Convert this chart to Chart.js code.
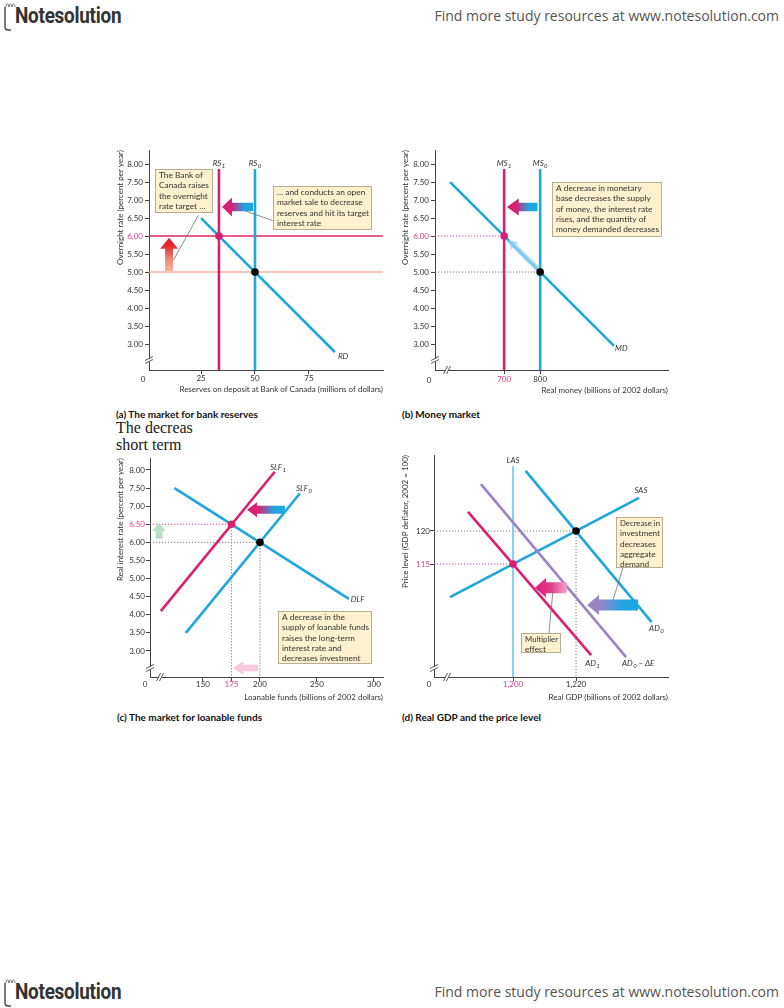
<!DOCTYPE html>
<html><head><meta charset="utf-8">
<script src="https://cdn.jsdelivr.net/npm/chart.js@4.4.1/dist/chart.umd.min.js"></script>
<style>
html,body{margin:0;padding:0;background:#fff}
body{width:784px;height:1008px;position:relative;overflow:hidden}
canvas{position:absolute}
.logo{position:absolute;left:3px;width:130px;height:32px}
.logo svg{position:absolute;left:0;top:0}
.logo span{position:absolute;left:12px;top:1.5px;font:bold 22px/22px Roboto,sans-serif;color:#333;transform:scaleX(0.86);transform-origin:0 0;letter-spacing:-0.3px;white-space:nowrap}
.link{position:absolute;right:5px;font:14px/20px 'Open Sans',sans-serif;color:#555;white-space:nowrap}
.cap{position:absolute;font:bold 10px/11px Lato,sans-serif;color:#111;white-space:nowrap}
.serif{position:absolute;left:116px;top:419px;font:16px/17px 'Liberation Serif',serif;color:#222;white-space:nowrap}
</style></head><body>
<div class="logo" style="top:3px"><svg width="14" height="30"><path d="M2 4 V24 Q2 27 5 27 H8" stroke="#444" stroke-width="1.4" fill="none"/><path d="M3 4 q0 -3 1.5 -3 q1.5 0 1.5 3 M6 4 q0 -3 1.5 -3 q1.5 0 1.5 3 M9 4 q0 -3 1.5 -3 q1.5 0 1.5 3" stroke="#555" stroke-width="0.8" fill="none"/></svg><span>Notesolution</span></div>
<div class="link" style="top:6px">Find more study resources at www.notesolution.com</div>
<div class="logo" style="top:979px"><svg width="14" height="30"><path d="M2 4 V24 Q2 27 5 27 H8" stroke="#444" stroke-width="1.4" fill="none"/><path d="M3 4 q0 -3 1.5 -3 q1.5 0 1.5 3 M6 4 q0 -3 1.5 -3 q1.5 0 1.5 3 M9 4 q0 -3 1.5 -3 q1.5 0 1.5 3" stroke="#555" stroke-width="0.8" fill="none"/></svg><span>Notesolution</span></div>
<div class="link" style="top:982px">Find more study resources at www.notesolution.com</div>
<div class="cap" style="left:116px;top:409px">(a) The market for bank reserves</div>
<div class="cap" style="left:402px;top:409px">(b) Money market</div>
<div class="cap" style="left:117px;top:712px">(c) The market for loanable funds</div>
<div class="cap" style="left:402px;top:712px">(d) Real GDP and the price level</div>
<div class="serif">The decreas<br>short term</div>
<script>
// ================= DATA =================
// (a) The market for bank reserves
const aXTicks = [25, 50, 75];
const aYTicks = [3.0, 3.5, 4.0, 4.5, 5.0, 5.5, 6.0, 6.5, 7.0, 7.5, 8.0];
const aXRange = [0.9, 109.3];
const aYRange = [2.28, 8.39];
const aRD  = [[25, 6.5], [87, 2.78]];
const aRS0 = [[50, 2.28], [50, 7.86]];
const aRS1 = [[33.3, 2.28], [33.3, 7.86]];
const aRateNew = [[0.9, 6.0], [109.3, 6.0]];
const aRateOld = [[0.9, 5.0], [109.3, 5.0]];
const aEqOld = [[50, 5.0]];
const aEqNew = [[33.3, 6.0]];

// (b) Money market
const bXTicks = [700, 800];
const bYTicks = [3.0, 3.5, 4.0, 4.5, 5.0, 5.5, 6.0, 6.5, 7.0, 7.5, 8.0];
const bXRange = [508, 1155];
const bYRange = [2.28, 8.39];
const bMD  = [[550, 7.5], [1005, 2.95]];
const bMS0 = [[800, 2.28], [800, 7.86]];
const bMS1 = [[700, 2.28], [700, 7.86]];
const bEqOld = [[800, 5.0]];
const bEqNew = [[700, 6.0]];

// (c) The market for loanable funds
const cXTicks = [150, 175, 200, 250, 300];
const cYTicks = [3.0, 3.5, 4.0, 4.5, 5.0, 5.5, 6.0, 6.5, 7.0, 7.5, 8.0];
const cXRange = [103.5, 308];
const cYRange = [2.28, 8.33];
const cDLF  = [[125, 7.5], [278, 4.44]];
const cSLF0 = [[135, 3.5], [235, 7.35]];
const cSLF1 = [[113, 4.1], [213, 7.95]];
const cEqOld = [[200, 6.0]];
const cEqNew = [[175, 6.5]];

// (d) Real GDP and the price level
const dXTicks = [1200, 1220];
const dYTicks = [115, 120];
const dXRange = [1174.9, 1249.2];
const dYRange = [97.9, 131.5];
const dLAS  = [[1200, 97.9], [1200, 129.8]];
const dSAS  = [[1180, 110], [1240, 125]];
const dAD0  = [[1204, 129.1], [1244, 106.2]];
const dADdE = [[1189.8, 127.1], [1235.9, 100.9]];
const dAD1  = [[1185.7, 122.9], [1224.8, 101.2]];
const dEqOld = [[1220, 120]];
const dEqNew = [[1200, 115]];

// ================= STYLE =================
const FONT = 'Lato';
const MAG = '#da1f72', MAGT = '#e0408a', CYAN = '#1da6e0', PURP = '#9b83c4', LASC = '#86cff0';
const DARK = '#333', AX = '#444';

const pts = a => a.map(([x, y]) => ({x, y}));
const line = (a, color, w, dash) => ({data: pts(a), showLine: true, borderColor: color, borderWidth: w, pointRadius: 0, borderDash: dash || [], fill: false});
const dots = (a, color) => ({data: pts(a), showLine: false, pointRadius: 3.8, pointHoverRadius: 3.8, backgroundColor: color, borderWidth: 0});
const dotted = (a, color) => line(a, color, 1, [1.2, 1.8]);

function drawArrow(ctx, x1, y1, x2, y2, a) {
  const ang = Math.atan2(y2 - y1, x2 - x1), len = Math.hypot(x2 - x1, y2 - y1);
  ctx.save(); ctx.translate(x1, y1); ctx.rotate(ang);
  let fill = a.color;
  if (a.stops) { const g = ctx.createLinearGradient(0, 0, len, 0); a.stops.forEach(s => g.addColorStop(s[0], s[1])); fill = g; }
  ctx.fillStyle = fill;
  const s = a.shaft / 2, h = a.headW / 2, L = len - a.headL;
  ctx.beginPath();
  ctx.moveTo(0, -s); ctx.lineTo(L, -s); ctx.lineTo(L, -h); ctx.lineTo(len, 0);
  ctx.lineTo(L, h); ctx.lineTo(L, s); ctx.lineTo(0, s); ctx.closePath(); ctx.fill();
  ctx.restore();
}
function drawBox(ctx, x1, y1, x2, y2, lines) {
  const l = Math.round(Math.min(x1, x2)), t = Math.round(Math.min(y1, y2));
  const w = Math.round(Math.abs(x2 - x1)), h = Math.round(Math.abs(y2 - y1));
  ctx.fillStyle = '#fdf2cd'; ctx.fillRect(l, t, w, h);
  ctx.strokeStyle = '#a89c86'; ctx.lineWidth = 0.8; ctx.strokeRect(l + 0.5, t + 0.5, w - 1, h - 1);
  ctx.fillStyle = DARK; ctx.font = `8.3px ${FONT}`; ctx.textAlign = 'left'; ctx.textBaseline = 'middle';
  lines.forEach((s, i) => ctx.fillText(s, l + 4, t + 6.5 + i * 10.2, w - 7));
}
function drawLabel(ctx, x, y, l) {
  const f1 = `italic 8px ${FONT}`, f2 = `italic 6px ${FONT}`;
  ctx.font = f1; const w1 = ctx.measureText(l.t).width;
  ctx.font = f2; const w2 = l.s ? ctx.measureText(l.s).width + 0.4 : 0;
  ctx.font = f1; const w3 = l.t2 ? ctx.measureText(l.t2).width : 0;
  const x0 = l.align === 'center' ? x - (w1 + w2 + w3) / 2 : x;
  const base = y + 3;
  ctx.fillStyle = DARK; ctx.textAlign = 'left'; ctx.textBaseline = 'alphabetic';
  ctx.font = f1; ctx.fillText(l.t, x0, base);
  if (l.s) { ctx.font = f2; ctx.fillText(l.s, x0 + w1 + 0.4, base + 2); }
  if (l.t2) { ctx.font = f1; ctx.fillText(l.t2, x0 + w1 + w2, base); }
}
function drawBreak(ctx, x, y, axis) {
  ctx.save(); ctx.strokeStyle = AX; ctx.lineWidth = 0.9; ctx.fillStyle = '#fff';
  if (axis === 'y') {
    ctx.fillRect(x - 2, y - 1.5, 4, 3);
    [-1.5, 1.5].forEach(d => { ctx.beginPath(); ctx.moveTo(x - 4, y + d + 2); ctx.lineTo(x + 4, y + d - 2); ctx.stroke(); });
  } else {
    ctx.fillRect(x - 1.5, y - 2, 3, 4);
    [-1.5, 1.5].forEach(d => { ctx.beginPath(); ctx.moveTo(x + d - 2, y + 4); ctx.lineTo(x + d + 2, y - 4); ctx.stroke(); });
  }
  ctx.restore();
}
function annotPlugin(an) {
  return {
    id: 'annot',
    afterDatasetsDraw(chart) {
      const ctx = chart.ctx, ca = chart.chartArea;
      const X = v => chart.scales.x.getPixelForValue(v), Y = v => chart.scales.y.getPixelForValue(v);
      ctx.save();
      (an.arrows || []).forEach(a => drawArrow(ctx, X(a.from[0]), Y(a.from[1]), X(a.to[0]), Y(a.to[1]), a));
      (an.leaders || []).forEach(l => {
        ctx.strokeStyle = '#6f6f6f'; ctx.lineWidth = 0.8; ctx.beginPath();
        ctx.moveTo(X(l[0][0]), Y(l[0][1])); ctx.lineTo(X(l[1][0]), Y(l[1][1])); ctx.stroke();
      });
      (an.boxes || []).forEach(b => drawBox(ctx, X(b.x1), Y(b.y1), X(b.x2), Y(b.y2), b.lines));
      (an.labels || []).forEach(l => drawLabel(ctx, X(l.x), Y(l.y), l));
      ctx.font = `8px ${FONT}`; ctx.fillStyle = DARK; ctx.textAlign = 'center'; ctx.textBaseline = 'middle';
      ctx.fillText('0', ca.left + an.zero[0], ca.bottom + an.zero[1]);
      if (an.breakY != null) drawBreak(ctx, ca.left, ca.bottom - an.breakY, 'y');
      if (an.breakX != null) drawBreak(ctx, ca.left + an.breakX, ca.bottom, 'x');
      ctx.restore();
    }
  };
}

function makeChart(geo, cfg) {
  const cv = document.createElement('canvas');
  cv.width = geo.w; cv.height = geo.h;
  cv.style.left = geo.left + 'px'; cv.style.top = geo.top + 'px';
  cv.style.width = geo.w + 'px'; cv.style.height = geo.h + 'px';
  document.body.appendChild(cv);
  const yW = geo.area[0] - geo.left, xH = geo.top + geo.h - geo.area[3];
  const tickFont = {family: FONT, size: 8};
  return new Chart(cv, {
    type: 'scatter',
    data: {datasets: cfg.datasets.slice().reverse()},
    options: {
      responsive: false, animation: false, devicePixelRatio: 1,
      events: [],
      layout: {padding: {top: geo.area[1] - geo.top, right: geo.left + geo.w - geo.area[2], left: 0, bottom: 0}},
      plugins: {legend: {display: false}, tooltip: {enabled: false}},
      scales: {
        x: {
          type: 'linear', min: cfg.xRange[0], max: cfg.xRange[1],
          afterBuildTicks: s => { s.ticks = cfg.xTicks.map(v => ({value: v})); },
          afterFit: s => { s.height = xH; },
          ticks: {autoSkip: false, maxRotation: 0, padding: cfg.xPad, font: tickFont,
                  color: c => (cfg.xMag.includes(c.tick && c.tick.value) ? MAGT : DARK), callback: cfg.xFmt},
          grid: {drawOnChartArea: false, tickLength: 4, color: AX, lineWidth: 1},
          border: {display: true, color: AX, width: 1},
          title: {display: true, text: cfg.xTitle, align: 'end', color: DARK, font: {family: FONT, size: 8}, padding: {top: 0, bottom: cfg.xTitlePad}}
        },
        y: {
          type: 'linear', min: cfg.yRange[0], max: cfg.yRange[1],
          afterBuildTicks: s => { s.ticks = cfg.yTicks.map(v => ({value: v})); },
          afterFit: s => { s.width = yW; },
          ticks: {autoSkip: false, padding: cfg.yPad, font: tickFont,
                  color: c => (cfg.yMag.includes(c.tick && c.tick.value) ? MAGT : DARK), callback: cfg.yFmt},
          grid: {drawOnChartArea: false, tickLength: 4, color: AX, lineWidth: 1},
          border: {display: true, color: AX, width: 1},
          title: {display: true, text: cfg.yTitle, align: 'end', color: DARK, font: {family: FONT, size: 8}, padding: {top: 15.2, bottom: 0}}
        }
      }
    },
    plugins: [annotPlugin(cfg.annot)]
  });
}

const fmt2 = v => Number(v).toFixed(2);
const fmt0 = v => String(v);
const fmtK = v => Number(v).toLocaleString('en-US');
const gradCM = [[0, CYAN], [0.28, CYAN], [0.7, MAG], [1, MAG]];

// ---- panel (a)
makeChart({left: 100, top: 140, w: 290, h: 260, area: [149, 150, 383, 370]}, {
  xRange: aXRange, yRange: aYRange, xTicks: aXTicks, yTicks: aYTicks, xMag: [], yMag: [6],
  xFmt: fmt0, yFmt: fmt2, xPad: 0, yPad: 2, xTitlePad: 6.2,
  xTitle: 'Reserves on deposit at Bank of Canada (millions of dollars)',
  yTitle: 'Overnight rate (percent per year)',
  datasets: [
    line(aRateOld, '#f5b3a0', 1.5),
    line(aRateNew, '#dc2a62', 1.5),
    line(aRD, CYAN, 2.6),
    line(aRS0, CYAN, 2.6),
    line(aRS1, MAG, 2.6),
    dots(aEqOld, '#000'),
    dots(aEqNew, MAG)
  ],
  annot: {
    arrows: [
      {from: [10.2, 5.03], to: [10.2, 5.95], shaft: 8, headW: 18, headL: 11,
       stops: [[0, '#f7b39c'], [0.35, '#f08a70'], [0.78, '#e2232b'], [1, '#e2232b']]},
      {from: [49.1, 6.81], to: [34.7, 6.81], shaft: 8.5, headW: 19, headL: 10, stops: gradCM}
    ],
    leaders: [[[23.8, 6.58], [12.2, 5.33]], [[58.2, 6.43], [45.4, 6.70]]],
    boxes: [
      {x1: 3.7, y1: 7.85, x2: 30.6, y2: 6.63, lines: ['The Bank of', 'Canada raises', 'the overnight', 'rate target …']},
      {x1: 58.3, y1: 7.39, x2: 104.2, y2: 6.17, lines: ['… and conducts an open', 'market sale to decrease', 'reserves and hit its target', 'interest rate']}
    ],
    labels: [
      {x: 33.3, y: 8.03, t: 'RS', s: '1', align: 'center'},
      {x: 50, y: 8.03, t: 'RS', s: '0', align: 'center'},
      {x: 88.4, y: 2.67, t: 'RD'}
    ],
    zero: [-6, 9], breakY: 10
  }
});

// ---- panel (b)
makeChart({left: 385, top: 140, w: 290, h: 260, area: [435, 150, 668, 370]}, {
  xRange: bXRange, yRange: bYRange, xTicks: bXTicks, yTicks: bYTicks, xMag: [700], yMag: [6],
  xFmt: fmt0, yFmt: fmt2, xPad: 0.5, yPad: 2, xTitlePad: 5.2,
  xTitle: 'Real money (billions of 2002 dollars)',
  yTitle: 'Overnight rate (percent per year)',
  datasets: [
    dotted([[bXRange[0], 5.0], [800, 5.0]], '#777'),
    dotted([[bXRange[0], 6.0], [700, 6.0]], MAGT),
    line(bMD, CYAN, 2.6),
    line(bMS0, CYAN, 2.6),
    line(bMS1, MAG, 2.6),
    dots(bEqOld, '#000'),
    dots(bEqNew, MAG)
  ],
  annot: {
    arrows: [
      {from: [792, 5.1], to: [711, 5.9], shaft: 5, headW: 10, headL: 9, color: 'rgba(150,210,240,0.8)'},
      {from: [792.5, 6.81], to: [707.4, 6.81], shaft: 8.5, headW: 17, headL: 12, stops: gradCM}
    ],
    boxes: [
      {x1: 833.3, y1: 7.50, x2: 1138.9, y2: 5.97, lines: ['A decrease in monetary', 'base decreases the supply', 'of money, the interest rate', 'rises, and the quantity of', 'money demanded decreases']}
    ],
    labels: [
      {x: 700, y: 8.03, t: 'MS', s: '1', align: 'center'},
      {x: 800, y: 8.03, t: 'MS', s: '0', align: 'center'},
      {x: 1008, y: 2.89, t: 'MD'}
    ],
    zero: [-6, 10], breakY: 10, breakX: 12
  }
});

// ---- panel (c)
makeChart({left: 100, top: 445, w: 290, h: 262, area: [150, 458, 383, 677]}, {
  xRange: cXRange, yRange: cYRange, xTicks: cXTicks, yTicks: cYTicks, xMag: [175], yMag: [6.5],
  xFmt: fmt0, yFmt: fmt2, xPad: -1, yPad: 1, xTitlePad: 5.2,
  xTitle: 'Loanable funds (billions of 2002 dollars)',
  yTitle: 'Real interest rate (percent per year)',
  datasets: [
    dotted([[cXRange[0], 6.0], [200, 6.0]], '#777'),
    dotted([[200, 6.0], [200, cYRange[0]]], '#777'),
    dotted([[cXRange[0], 6.5], [175, 6.5]], MAGT),
    dotted([[175, 6.5], [175, cYRange[0]]], MAGT),
    line(cDLF, CYAN, 2.6),
    line(cSLF0, CYAN, 2.6),
    line(cSLF1, MAG, 2.6),
    dots(cEqOld, '#000'),
    dots(cEqNew, MAG)
  ],
  annot: {
    arrows: [
      {from: [221.9, 6.9], to: [188.6, 6.9], shaft: 8, headW: 15, headL: 10, stops: gradCM},
      {from: [111.4, 6.1], to: [111.4, 6.54], shaft: 7, headW: 13, headL: 8, color: '#b9dfc3'},
      {from: [198.2, 2.53], to: [176.3, 2.53], shaft: 6.5, headW: 13, headL: 10, color: '#f9c8da'}
    ],
    boxes: [
      {x1: 215.8, y1: 4.10, x2: 298.2, y2: 2.64, lines: ['A decrease in the', 'supply of loanable funds', 'raises the long-term', 'interest rate and', 'decreases investment']}
    ],
    labels: [
      {x: 215.8, y: 8.08, t: 'SLF', s: '1', align: 'center'},
      {x: 238.6, y: 7.50, t: 'SLF', s: '0', align: 'center'},
      {x: 279.8, y: 4.44, t: 'DLF'}
    ],
    zero: [-5, 7], breakY: 9, breakX: 10
  }
});

// ---- panel (d)
makeChart({left: 385, top: 445, w: 290, h: 262, area: [434, 455, 668, 677]}, {
  xRange: dXRange, yRange: dYRange, xTicks: dXTicks, yTicks: dYTicks, xMag: [1200], yMag: [115],
  xFmt: fmtK, yFmt: fmt0, xPad: -1, yPad: 0, xTitlePad: 5.2,
  xTitle: 'Real GDP (billions of 2002 dollars)',
  yTitle: 'Price level (GDP deflator, 2002 = 100)',
  datasets: [
    dotted([[dXRange[0], 120], [1220, 120]], '#777'),
    dotted([[1220, 120], [1220, dYRange[0]]], '#777'),
    dotted([[dXRange[0], 115], [1200, 115]], MAGT),
    line(dLAS, LASC, 2),
    line(dSAS, CYAN, 2.6),
    line(dAD0, CYAN, 2.6),
    line(dADdE, PURP, 2.6),
    line(dAD1, MAG, 2.6),
    dots(dEqOld, '#000'),
    dots(dEqNew, MAG)
  ],
  annot: {
    arrows: [
      {from: [1239.7, 108.8], to: [1223.5, 108.8], shaft: 11, headW: 20, headL: 12,
       stops: [[0, CYAN], [0.3, CYAN], [0.75, PURP], [1, PURP]]},
      {from: [1217.1, 111.4], to: [1207.0, 111.4], shaft: 11, headW: 20, headL: 11,
       stops: [[0, '#f4a6c9'], [0.45, '#e2458f'], [1, '#df1677']]}
    ],
    leaders: [[[1234.9, 114.4], [1231.7, 109.5]], [[1211.4, 104.5], [1212.7, 111.1]]],
    boxes: [
      {x1: 1232.7, y1: 122.1, x2: 1247.6, y2: 114.4, lines: ['Decrease in', 'investment', 'decreases', 'aggregate', 'demand']},
      {x1: 1202.5, y1: 104.5, x2: 1215.2, y2: 101.4, lines: ['Multiplier', 'effect']}
    ],
    labels: [
      {x: 1200, y: 130.76, t: 'LAS', align: 'center'},
      {x: 1240.6, y: 126.2, t: 'SAS', align: 'center'},
      {x: 1243.2, y: 105.3, t: 'AD', s: '0'},
      {x: 1222.9, y: 100.0, t: 'AD', s: '1'},
      {x: 1234.6, y: 100.0, t: 'AD', s: '0', t2: ' − ΔE'}
    ],
    zero: [-5, 7], breakY: 9, breakX: 13
  }
});
</script>
</body></html>
